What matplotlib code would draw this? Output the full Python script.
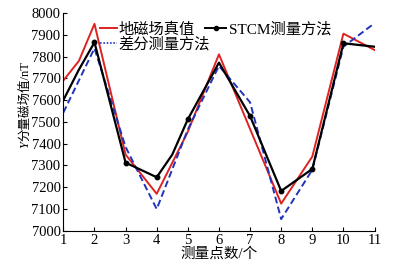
import matplotlib
matplotlib.use("Agg")
import matplotlib.pyplot as plt
from matplotlib.lines import Line2D

plt.rcParams['font.family'] = ['Liberation Serif', 'Noto Sans CJK SC']

# Data
x_true = [1, 1.5, 2, 3, 4, 5, 6, 8, 9, 10, 11]
y_true = [7690, 7780, 7950, 7350, 7170, 7455, 7810, 7125, 7341, 7905, 7830]

x_stcm = [1, 1.5, 2, 3, 4, 4.5, 5, 6, 7, 8, 9, 10, 11]
y_stcm = [7600, 7740, 7865, 7313, 7246, 7350, 7512, 7772, 7527, 7183, 7284, 7861, 7845]
x_stcm_mk = [2, 3, 4, 5, 7, 8, 9, 10]
y_stcm_mk = [7865, 7313, 7246, 7512, 7527, 7183, 7284, 7861]

x_diff = [1, 2, 3, 4, 5, 6, 7, 8, 9, 10, 11]
y_diff = [7543, 7838, 7385, 7100, 7465, 7757, 7590, 7054, 7280, 7845, 7953]

xticks = list(range(1, 12))
yticks = list(range(7000, 8001, 100))

W, H = 401, 270
fig = plt.figure(figsize=(W / 100, H / 100), dpi=100)
ax = fig.add_axes([0.158, 0.145, 0.776, 0.807])

red = '#dd2222'
blue = '#2233bb'
l1, = ax.plot(x_true, y_true, color=red, lw=1.4)
l3, = ax.plot(x_diff, y_diff, color=blue, lw=1.4, ls=(0, (3.5, 1.8)))
ax.plot(x_stcm, y_stcm, color='black', lw=1.6)
ax.plot(x_stcm_mk, y_stcm_mk, 'o', color='black', ms=3.2)

ax.set_xlim(1, 11)
ax.set_ylim(7000, 8000)
ax.set_xticks(xticks)
ax.set_yticks(yticks)
ax.tick_params(direction='in', length=3, labelsize=10.5, pad=2)
for s in ['top', 'right']:
    ax.spines[s].set_visible(False)

ax.set_xlabel('测量点数/个', fontsize=10.5, labelpad=0)

# y label: italic Y + rest
ylx = 25 / W
y_bottom = 1 - 148 / H
fig.text(ylx, y_bottom, 'Y', rotation=90, ha='center', va='bottom',
         fontsize=9, style='italic', family='Liberation Serif')
fig.canvas.draw()
fig.text(ylx, y_bottom + 7 / H, '分量磁场值/nT', rotation=90, ha='center', va='bottom',
         fontsize=9)

# legends
h_red = Line2D([], [], color=red, lw=1.4)
h_blue = Line2D([], [], color=blue, lw=1.2, ls=(0, (1, 1)))
h_blk = Line2D([], [], color='black', lw=1.4, marker='o', ms=3)
legA = ax.legend([h_red, h_blue], ['地磁场真值', '差分测量方法'], frameon=False,
                 fontsize=11, loc='center left',
                 bbox_to_anchor=(100 / W, 1 - 37 / H), bbox_transform=fig.transFigure,
                 handlelength=1.1, handletextpad=0.1, labelspacing=0.05,
                 borderpad=0.0, borderaxespad=0)
ax.add_artist(legA)
ax.legend([h_blk], ['STCM测量方法'], frameon=False, fontsize=11, loc='center left',
          bbox_to_anchor=(205 / W, 1 - 29 / H), bbox_transform=fig.transFigure,
          handlelength=1.4, handletextpad=0.15, borderpad=0.0, borderaxespad=0)

fig.savefig('out.png', dpi=100)
